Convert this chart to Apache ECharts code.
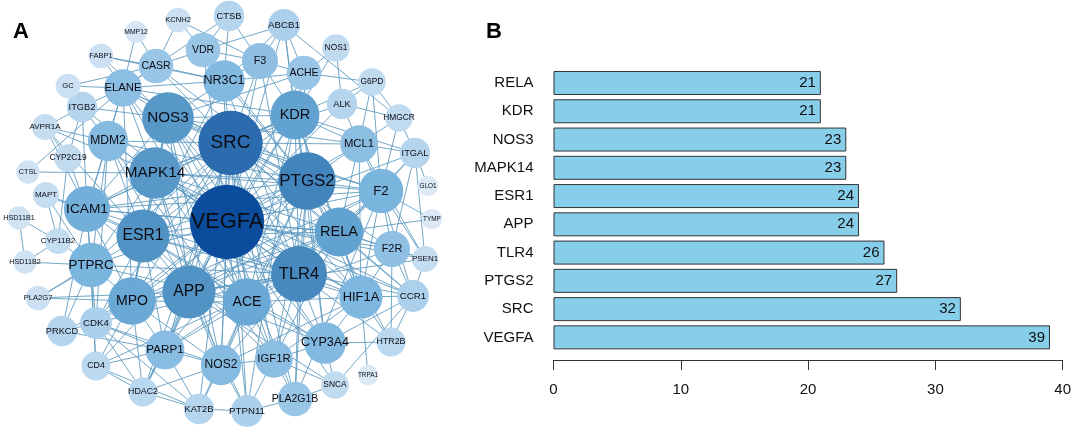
<!DOCTYPE html>
<html>
<head>
<meta charset="utf-8">
<style>html,body{margin:0;padding:0;background:#fff}#c{width:1072px;height:428px}</style>
<script src="https://cdn.jsdelivr.net/npm/echarts@6/dist/echarts.min.js"></script>
</head>
<body>
<div id="c"></div>
<script>
// Panel B
const hubNames = ['RELA','KDR','NOS3','MAPK14','ESR1','APP','TLR4','PTGS2','SRC','VEGFA'];
const hubCounts = [21,21,23,23,24,24,26,27,32,39];
const countTicks = [0,10,20,30,40];

// Panel A: node name, layout position, degree
const nodeNames = ['VEGFA','SRC','PTGS2','TLR4','APP','ESR1','MAPK14','NOS3','KDR','RELA','ACE','MPO','ICAM1','PTPRC','F2','HIF1A','CYP3A4','NR3C1','MDM2','MCL1','NOS2','PARP1','ELANE','IGF1R','F3','F2R','VDR','CASR','ACHE','PLA2G1B','CDK4','ABCB1','PTPN11','ITGAL','ITGB2','PRKCD','KAT2B','CD4','HDAC2','HTR2B','CCR1','ALK','CTSB','CYP2C19','G6PD','HMGCR','NOS1','SNCA','AVPR1A','MAPT','CYP11B2','PSEN1','KCNH2','FABP1','GC','PLA2G7','HSD11B1','HSD11B2','CTSL','MMP12','GLO1','TYMP','TRPA1'];
const nodeX = [227,230.5,307,299,189,143,155,168,295,339,247,132,87,91,381,361,325,224,108,359,221,165,123,274,260,392,203,156,304,295,96,284,247,415,82,62,199,96,143,391,413,342,229,68,372,399,336,335,45,46,58,425,178,101,68,38,19,25,28,136,428,432,368];
const nodeY = [222,143,181,274,292,236,173,118,115,232,302,301,209,265,191,297,343,81,141,144,365,350,88,359,61,249,50,66,73,399,323,25,411,153,107,331,409,366,392,342,296,104,16,158,82,118,48,385,127,195,241,259,20,56,86,298,218,262,172,32,186,219,375];
const nodeDegree = [39,32,27,26,24,24,23,23,21,21,20,20,19,18,18,17,16,16,15,13,15,14,13,13,12,12,11,11,11,11,9,9,9,8,8,8,8,7,7,7,9,8,8,6,6,6,6,6,5,5,5,5,4,4,4,4,3,3,3,2,1,1,1];

// Panel A: edges, as seen in the picture and capped by each bubble's apparent degree
const edgeLists = {
 VEGFA:'SRC PTGS2 TLR4 APP ESR1 MAPK14 NOS3 KDR RELA ACE MPO ICAM1 PTPRC F2 HIF1A CYP3A4 NR3C1 MDM2 MCL1 NOS2 PARP1 ELANE IGF1R F3 F2R CCR1 PLA2G1B PTPN11 CDK4 CD4 HDAC2 ITGB2 ITGAL ABCB1 VDR ACHE ALK PSEN1 SNCA',
 SRC:'PTGS2 TLR4 APP ESR1 MAPK14 NOS3 KDR RELA ACE MPO ICAM1 PTPRC F2 HIF1A NR3C1 MDM2 MCL1 NOS2 PARP1 IGF1R F3 F2R PTPN11 CDK4 ALK CASR KAT2B PLA2G1B CCR1 ELANE HDAC2',
 PTGS2:'TLR4 APP ESR1 MAPK14 NOS3 KDR RELA ACE MPO ICAM1 HIF1A CYP3A4 NR3C1 NOS2 MCL1 PARP1 ELANE F2 PLA2G1B VDR CASR ACHE HTR2B MDM2 IGF1R',
 TLR4:'APP ESR1 MAPK14 NOS3 KDR RELA ACE MPO ICAM1 PTPRC HIF1A CCR1 NOS2 F2 CD4 HTR2B IGF1R PLA2G1B CDK4 F3',
 APP:'ESR1 MAPK14 NOS3 ACE MPO ICAM1 PARP1 NOS2 RELA MDM2 KDR CYP3A4 F2 PSEN1 HDAC2 PTPN11 PLA2G7 SNCA',
 ESR1:'MAPK14 NOS3 KDR RELA ACE ICAM1 MDM2 NR3C1 MPO HIF1A CYP3A4 MAPT CDK4 IGF1R PARP1 AVPR1A PLA2G7',
 MAPK14:'NOS3 KDR RELA ACE ICAM1 MDM2 NOS2 PTPRC CTSL AVPR1A HIF1A F2 MPO CCR1 ELANE',
 NOS3:'KDR ACE MPO ICAM1 NR3C1 ELANE NOS2 F2 CYP3A4 ACHE MCL1 FABP1 HIF1A ITGB2',
 KDR:'RELA ICAM1 F3 ABCB1 ACHE G6PD NOS1 ITGAL MCL1 HIF1A ELANE PTPN11 ACE',
 RELA:'ICAM1 MPO HIF1A PSEN1 TYMP CCR1 MCL1 F2 F2R IGF1R PARP1 ITGAL',
 ACE:'MPO NOS2 PTPRC F2 IGF1R HIF1A CYP3A4 PARP1 KAT2B ELANE F2R',
 MPO:'ICAM1 PTPRC PLA2G7 HDAC2 CDK4 PRKCD PARP1 CD4 ELANE NOS2 F2',
 ICAM1:'PTPRC ITGB2 MDM2 MAPT AVPR1A PRKCD CYP2C19 ELANE CD4 F2',
 PTPRC:'CDK4 PRKCD HSD11B2 PLA2G7 CYP11B2 CD4 MAPT MDM2',
 F2:'F2R CCR1 ITGAL MCL1 HMGCR HIF1A PLA2G1B G6PD PSEN1 TYMP',
 HIF1A:'CYP3A4 HTR2B CCR1 TRPA1 MCL1 IGF1R NOS2 F2R',
 CYP3A4:'IGF1R SNCA HTR2B NR3C1 ABCB1 CCR1',
 NR3C1:'CTSB VDR CASR F3 ELANE ABCB1 FABP1 ACHE',
 MDM2:'ELANE AVPR1A CDK4 ITGB2 IGF1R',
 MCL1:'ALK G6PD HMGCR ITGAL PSEN1',
 NOS2:'PARP1 KAT2B PTPN11 IGF1R CDK4 HDAC2',
 PARP1:'CDK4 CD4 HDAC2 KAT2B PRKCD',
 ELANE:'GC MMP12 CASR ITGB2 CTSL CTSB FABP1',
 IGF1R:'SNCA PLA2G1B PTPN11',
 F3:'ABCB1 CTSB VDR ACHE KCNH2',
 F2R:'HTR2B CCR1 PSEN1 ITGAL',
 VDR:'CTSB CASR KCNH2 ABCB1',
 CASR:'KCNH2 MMP12 GC FABP1',
 ACHE:'ABCB1 NOS1 G6PD',
 PLA2G1B:'SNCA PTPN11',
 CDK4:'PRKCD HDAC2 KAT2B',
 ABCB1:'HMGCR',
 PTPN11:'KAT2B',
 ITGAL:'GLO1 HMGCR PSEN1',
 ITGB2:'GC AVPR1A CYP2C19',
 KAT2B:'HDAC2 CD4',
 CD4:'HDAC2',
 HTR2B:'CCR1',
 ALK:'NOS1 G6PD HMGCR',
 G6PD:'HMGCR',
 CYP2C19:'AVPR1A CYP11B2',
 CYP11B2:'HSD11B1 HSD11B2 MAPT',
 HSD11B1:'HSD11B2',
 CCR1:'SNCA PSEN1'
};

function mix(a,b,t){return Math.round(a+(b-a)*t);}
const colorStops = [[1,[219,232,245]],[8,[181,213,238]],[12,[143,192,228]],[18,[122,181,222]],[21,[98,162,208]],[27,[66,132,188]],[32,[44,108,174]],[39,[11,77,156]]];
function nodeColor(d){
  for(let i=1;i<colorStops.length;i++){
    if(d<=colorStops[i][0]){
      const p=colorStops[i-1],q=colorStops[i],t=(d-p[0])/(q[0]-p[0]);
      return 'rgb('+[0,1,2].map(k=>mix(p[1][k],q[1][k],t)).join(',')+')';
    }
  }
  return 'rgb(11,77,156)';
}
const radiusOf = d => 9.5 + 0.71*d;

const graphNodes = nodeNames.map((n,i)=>{
  const r = radiusOf(nodeDegree[i]);
  return {
    name:n, value:[nodeX[i],nodeY[i]], symbolSize:r*2,
    itemStyle:{color:nodeColor(nodeDegree[i])},
    label:{fontSize:+(0.57*r+0.6).toFixed(1)}
  };
});
const graphLinks = [];
Object.keys(edgeLists).forEach(s=>edgeLists[s].split(' ').forEach(t=>graphLinks.push({source:s,target:t})));

const chart = echarts.init(document.getElementById('c'),null,{renderer:'canvas'});
const font = '"Liberation Sans", Arial, sans-serif';
chart.setOption({
  animation:false,
  backgroundColor:'#fff',
  title:[
    {text:'A',left:13,top:21,padding:0,textStyle:{fontFamily:font,fontSize:22,fontWeight:'bold',color:'#000'}},
    {text:'B',left:486,top:21,padding:0,textStyle:{fontFamily:font,fontSize:22,fontWeight:'bold',color:'#000'}}
  ],
  grid:[
    {left:0,top:0,width:480,height:428,outerBoundsMode:'none'},
    {left:553.5,top:68.9,width:509.2,height:282.6,outerBoundsMode:'none'}
  ],
  xAxis:[
    {gridIndex:0,type:'value',min:0,max:480,show:false},
    {gridIndex:1,type:'value',min:0,max:40,interval:10,offset:8.6,position:'bottom',
     splitLine:{show:false},
     axisLine:{show:true,lineStyle:{color:'#333',width:1}},
     axisTick:{show:true,length:10,lineStyle:{color:'#333',width:1}},
     axisLabel:{color:'#111',fontFamily:font,fontSize:15,margin:22,showMinLabel:true,showMaxLabel:true,
       customValues:countTicks}}
  ],
  yAxis:[
    {gridIndex:0,type:'value',min:0,max:428,inverse:true,show:false},
    {gridIndex:1,type:'category',inverse:true,data:hubNames,
     axisLine:{show:false},axisTick:{show:false},
     axisLabel:{color:'#111',fontFamily:font,fontSize:15,margin:20}}
  ],
  series:[
    {
      type:'graph',coordinateSystem:'cartesian2d',xAxisIndex:0,yAxisIndex:0,layout:'none',
      data:graphNodes,links:graphLinks,silent:true,
      lineStyle:{color:'#5a98bf',width:1,opacity:0.85,curveness:0},
      label:{show:true,position:'inside',color:'#0c0c14',fontFamily:font,formatter:'{b}'},
      itemStyle:{borderWidth:0},
      z:2
    },
    {
      type:'bar',xAxisIndex:1,yAxisIndex:1,data:hubCounts,barWidth:24,
      itemStyle:{color:'#87ceeb',borderColor:'#333',borderWidth:1},
      label:{show:true,position:'insideRight',distance:5,color:'#111',fontFamily:font,fontSize:15}
    }
  ]
});
</script>
</body>
</html>
